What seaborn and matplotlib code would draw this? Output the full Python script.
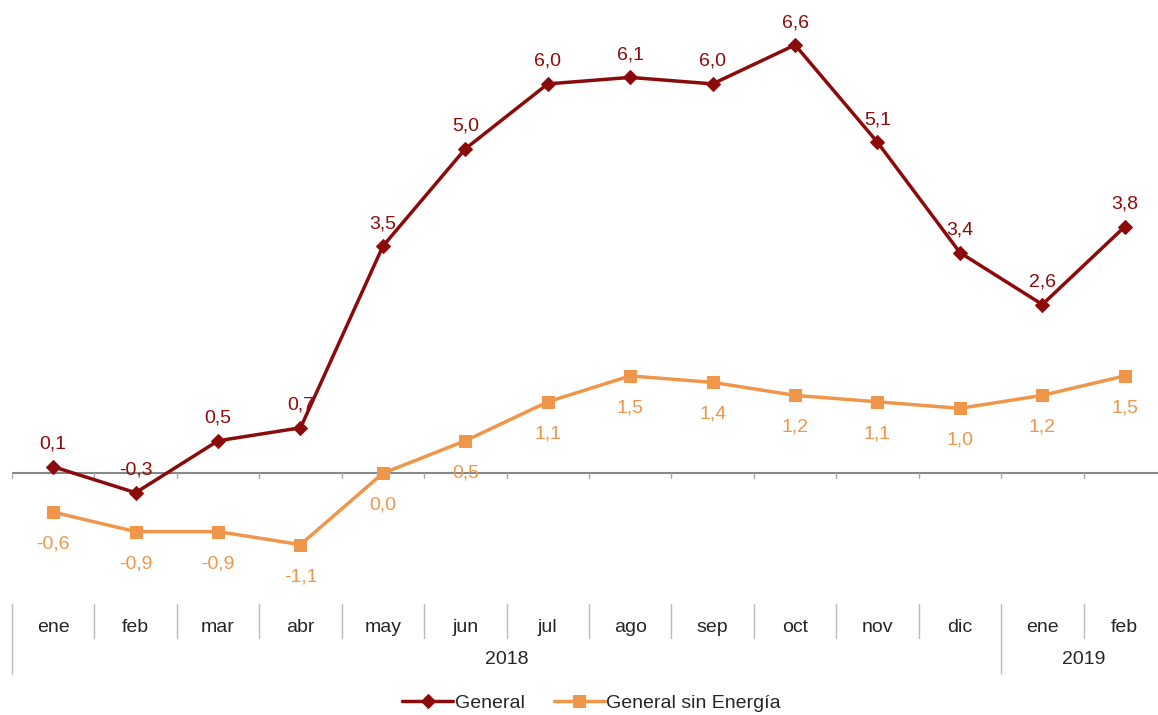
import matplotlib
matplotlib.use("Agg")
import matplotlib.pyplot as plt
import matplotlib.transforms as mtransforms
import pandas as pd
import seaborn as sns

# data
months = ["ene", "feb", "mar", "abr", "may", "jun", "jul", "ago", "sep", "oct", "nov", "dic", "ene", "feb"]
years = ["2018", "2019"]
months_per_year = [12, 2]
general = [0.1, -0.3, 0.5, 0.7, 3.5, 5.0, 6.0, 6.1, 6.0, 6.6, 5.1, 3.4, 2.6, 3.8]
sin_energia = [-0.6, -0.9, -0.9, -1.1, 0.0, 0.5, 1.1, 1.5, 1.4, 1.2, 1.1, 1.0, 1.2, 1.5]

red = "#8B0A0A"
orange = "#F0964A"
fs = 14

sns.set_style("white")
plt.rcParams["font.family"] = ["Liberation Sans", "DejaVu Sans"]

df = pd.DataFrame({"x": range(len(months)), "General": general, "General sin Energía": sin_energia})

fig = plt.figure(figsize=(11.58, 7.15), dpi=100)
ax = fig.add_axes([12 / 1158, 1 - 603 / 715, (1166 - 12) / 1158, (603 - 19) / 715])

sns.lineplot(data=df, x="x", y="General", ax=ax, color=red, lw=2.5,
             marker="D", markersize=7.5, markeredgecolor=red, label="General")
sns.lineplot(data=df, x="x", y="General sin Energía", ax=ax, color=orange, lw=2.5,
             marker="s", markersize=9, markeredgecolor=orange, label="General sin Energía")

ax.set_xlim(-0.5, len(months) - 0.5)
ax.set_ylim(-2, 7)
ax.set_xlabel("")
ax.set_ylabel("")
ax.set_xticks([])
ax.set_yticks([])
for s in ax.spines.values():
    s.set_visible(False)

# zero line with small ticks at category boundaries
ax.axhline(0, color="#888888", lw=1.5, zorder=1)
for k in range(len(months) + 1):
    ax.plot([k - 0.5, k - 0.5], [0, -0.08], color="#aaaaaa", lw=1, zorder=1)

# data labels
for i, v in enumerate(general):
    ax.annotate(f"{v:.1f}".replace(".", ","), (i, v), xytext=(0, 10), textcoords="offset points",
                ha="center", va="bottom", color=red, fontsize=fs)
for i, v in enumerate(sin_energia):
    ax.annotate(f"{v:.1f}".replace(".", ","), (i, v), xytext=(0, -17), textcoords="offset points",
                ha="center", va="top", color=orange, fontsize=fs)

# category table below the plot
trans = mtransforms.blended_transform_factory(ax.transData, fig.transFigure)
def fy(px):
    return 1 - px / 715

for i, m in enumerate(months):
    fig.text(i, fy(627), m, transform=trans, ha="center", va="center", fontsize=fs)

start = 0
year_bounds = [0]
for y, n in zip(years, months_per_year):
    fig.text(start - 0.5 + n / 2, fy(660), y, transform=trans, ha="center", va="center", fontsize=fs)
    start += n
    year_bounds.append(start)

for k in range(len(months) + 1):
    bottom = 674 if k in year_bounds else 638
    line = plt.Line2D([k - 0.5, k - 0.5], [fy(604), fy(bottom)], transform=trans,
                      color="#bbbbbb", lw=1)
    fig.add_artist(line)

ax.legend(loc="center", bbox_to_anchor=(0.511, fy(703)), bbox_transform=fig.transFigure,
          ncol=2, frameon=False, fontsize=fs, handlelength=2.6, handletextpad=0.1,
          columnspacing=1.5, numpoints=1)

fig.savefig("out.png", dpi=100)
